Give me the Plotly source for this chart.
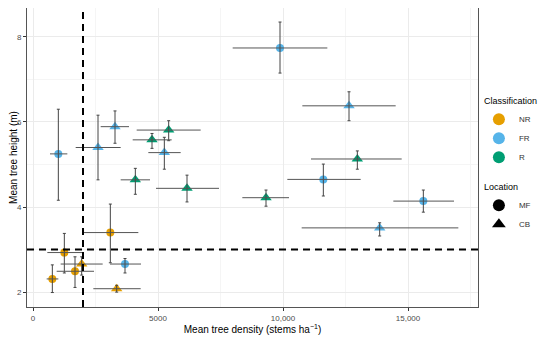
import plotly.graph_objects as go

# ---- data ----
classification = ["NR", "NR", "NR", "NR", "NR", "NR",
                  "FR", "FR", "FR", "FR", "FR",
                  "FR", "FR", "FR", "FR", "FR",
                  "R", "R", "R", "R", "R", "R"]
location = ["MF", "MF", "MF", "MF", "CB", "CB",
            "MF", "MF", "MF", "MF", "MF",
            "CB", "CB", "CB", "CB", "CB",
            "CB", "CB", "CB", "CB", "CB", "CB"]
density = [773, 1253, 1680, 3093, 1947, 3347,
           1013, 3680, 9880, 11613, 15613,
           2600, 3280, 5253, 12640, 13867,
           5427, 4760, 4093, 6160, 9320, 12973]
density_lo = [547, 573, 947, 2040, 1107, 2413,
              680, 3080, 7987, 10173, 14413,
              1707, 2707, 4613, 10773, 10747,
              4147, 3987, 3507, 4920, 8373, 11120]
density_hi = [1013, 1987, 2440, 4213, 2787, 4307,
              1373, 4320, 11773, 13107, 16840,
              3507, 3840, 5907, 14507, 17013,
              6707, 5547, 4680, 7440, 10240, 14747]
height = [2.31, 2.93, 2.49, 3.40, 2.66, 2.08,
          5.25, 2.66, 7.74, 4.65, 4.14,
          5.40, 5.89, 5.28, 6.38, 3.51,
          5.81, 5.58, 4.64, 4.44, 4.22, 5.13]
height_lo = [1.99, 2.45, 2.11, 2.69, 2.40, 2.00,
             4.16, 2.45, 7.15, 4.26, 3.88,
             4.64, 5.50, 4.89, 6.03, 3.32,
             5.56, 5.38, 4.30, 4.12, 4.02, 4.89]
height_hi = [2.64, 3.38, 2.83, 4.07, 2.83, 2.16,
             6.30, 2.79, 8.35, 5.01, 4.40,
             6.16, 6.26, 5.64, 6.71, 3.63,
             6.03, 5.73, 4.91, 4.75, 4.40, 5.32]

class_names = ["NR", "FR", "R"]
class_colors = {"NR": "#E69F00", "FR": "#56B4E9", "R": "#009E73"}
location_names = ["MF", "CB"]
location_symbols = {"MF": "circle", "CB": "triangle-up"}

density_threshold = 2000
height_threshold = 3

x_tickvals = [0, 5000, 10000, 15000]
x_ticktext = ["0", "5000", "10,000", "15,000"]
y_tickvals = [2, 4, 6, 8]

FONT = "Liberation Sans, Arial, sans-serif"

fig = go.Figure()

# points
for c in class_names:
    for loc in location_names:
        idx = [i for i in range(len(density)) if classification[i] == c and location[i] == loc]
        if not idx:
            continue
        fig.add_trace(go.Scatter(
            x=[density[i] for i in idx], y=[height[i] for i in idx],
            mode="markers", showlegend=False, hoverinfo="skip",
            marker=dict(color=class_colors[c], symbol=location_symbols[loc],
                        size=10 if loc == "CB" else 8, line=dict(width=0)),
        ))

# error bars drawn on top of points
fig.add_trace(go.Scatter(
    x=density, y=height, mode="markers", showlegend=False, hoverinfo="skip",
    marker=dict(size=1, opacity=0),
    error_x=dict(type="data", symmetric=False,
                 array=[h - m for h, m in zip(density_hi, density)],
                 arrayminus=[m - l for m, l in zip(density, density_lo)],
                 color="#555555", thickness=1, width=0),
    error_y=dict(type="data", symmetric=False,
                 array=[h - m for h, m in zip(height_hi, height)],
                 arrayminus=[m - l for m, l in zip(height, height_lo)],
                 color="#444444", thickness=1, width=1.5),
))

# legend entries
for c in class_names:
    fig.add_trace(go.Scatter(
        x=[None], y=[None], mode="markers", name=c,
        legendgroup="class", legendgrouptitle=dict(text="Classification"),
        marker=dict(color=class_colors[c], symbol="circle", size=7),
    ))
for loc in location_names:
    fig.add_trace(go.Scatter(
        x=[None], y=[None], mode="markers", name=loc,
        legendgroup="loc", legendgrouptitle=dict(text="Location"),
        marker=dict(color="black", symbol=location_symbols[loc], size=7),
    ))

# threshold lines
fig.add_shape(type="line", xref="x", yref="paper", x0=density_threshold, x1=density_threshold,
              y0=0, y1=1, line=dict(color="black", width=2, dash="7px,5px"))
fig.add_shape(type="line", xref="paper", yref="y", x0=0, x1=1,
              y0=height_threshold, y1=height_threshold,
              line=dict(color="black", width=2, dash="7px,5px"))

axis_common = dict(
    automargin=False,
    showline=True, mirror=True, linecolor="#555555", linewidth=1,
    showgrid=True, gridcolor="#EBEBEB", gridwidth=1,
    ticks="outside", ticklen=3, tickcolor="#333333", tickwidth=1,
    tickfont=dict(family=FONT, size=8, color="#4D4D4D"),
    zeroline=False,
)

# the page body adds an 8px offset, so margins are set to compensate
fig.update_layout(
    width=550, height=338,
    margin=dict(l=19, r=80, t=0, b=39),
    paper_bgcolor="white", plot_bgcolor="white",
    font=dict(family=FONT, size=9, color="black"),
    xaxis=dict(range=[-240, 17800], tickvals=x_tickvals, ticktext=x_ticktext,
               title=dict(text="Mean tree density (stems ha<sup>−1</sup>)",
                          font=dict(family=FONT, size=10, color="black"), standoff=0),
               minor=dict(tickvals=[2500, 7500, 12500, 17500], showgrid=True,
                          gridcolor="#F5F5F5", gridwidth=1, ticks=""),
               **axis_common),
    yaxis=dict(range=[1.65, 8.68], tickvals=y_tickvals,
               title=dict(text="Mean tree height (m)",
                          font=dict(family=FONT, size=10, color="black"), standoff=0),
               minor=dict(tickvals=[3, 5, 7], showgrid=True,
                          gridcolor="#F5F5F5", gridwidth=1, ticks=""),
               **axis_common),
    legend=dict(x=1.002, y=0.74, xanchor="left", yanchor="top",
                traceorder="grouped", tracegroupgap=10,
                font=dict(family=FONT, size=8, color="#333333"),
                grouptitlefont=dict(family=FONT, size=9, color="black"),
                itemsizing="constant", bgcolor="rgba(0,0,0,0)"),
)

fig.write_html("out.html")
